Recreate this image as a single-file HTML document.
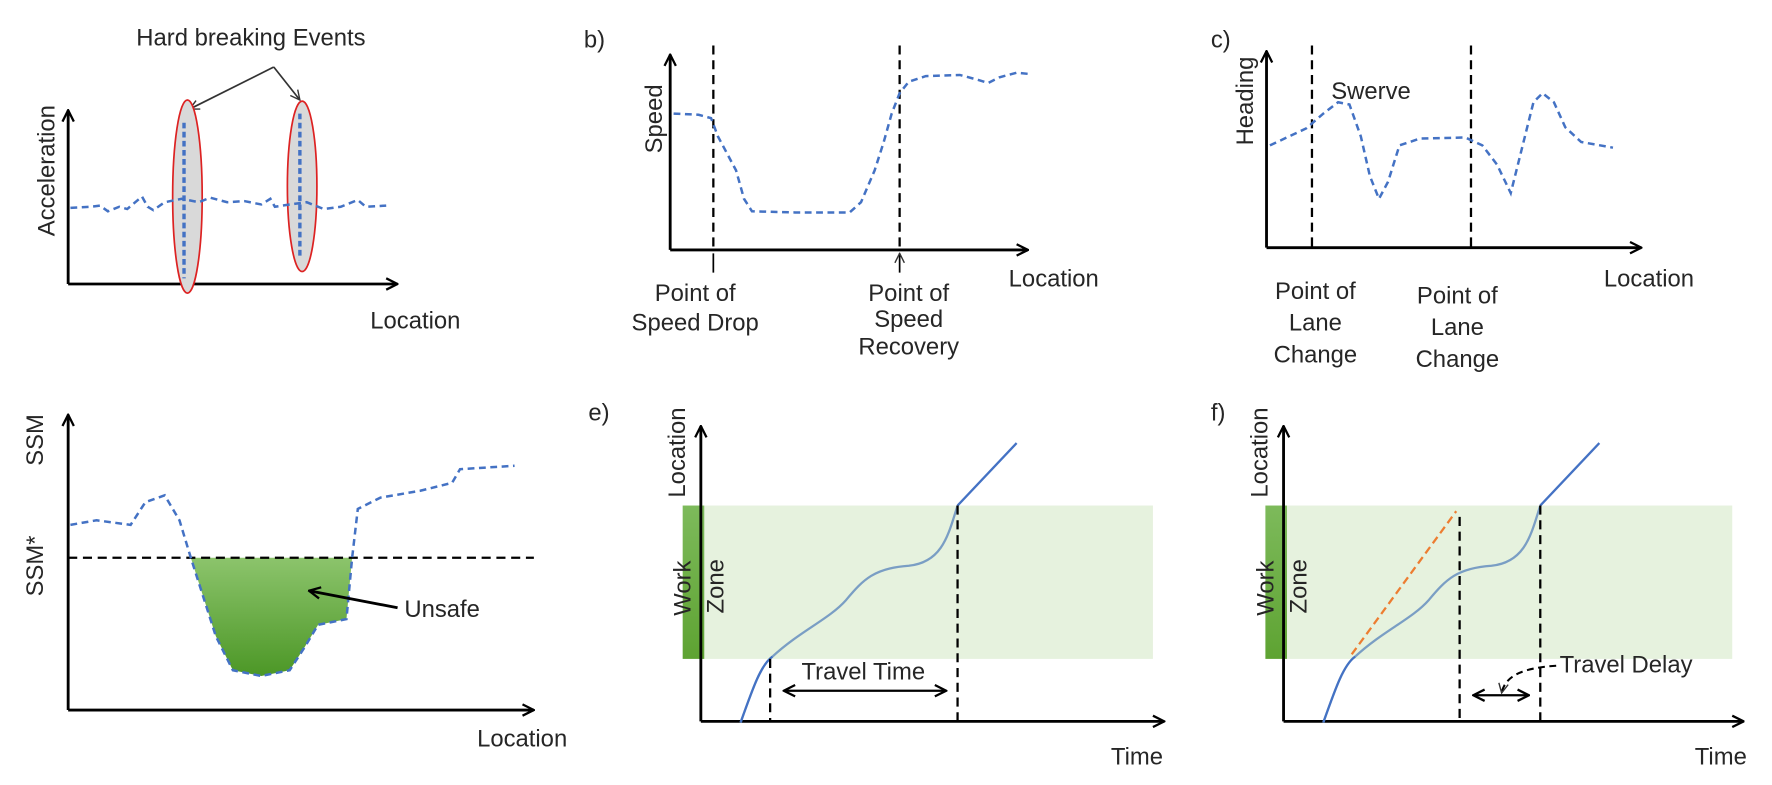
<!DOCTYPE html>
<html><head><meta charset="utf-8"><style>
html,body{margin:0;padding:0;background:#fff;overflow:hidden}
svg{display:block}
text{font-family:"Liberation Sans","DejaVu Sans",sans-serif;fill:#262626;font-size:21px}
</style></head><body>
<svg width="1772" height="785" viewBox="0 0 1560 691" preserveAspectRatio="none">
<defs>
<marker id="ar" viewBox="0 0 12 12" refX="11" refY="6" markerWidth="12" markerHeight="12" markerUnits="userSpaceOnUse" orient="auto"><path d="M1,1 L11,6 L1,11" fill="none" stroke="#000" stroke-width="2"/></marker>
<marker id="ar2" viewBox="0 0 12 12" refX="11" refY="6" markerWidth="10" markerHeight="10" markerUnits="userSpaceOnUse" orient="auto"><path d="M1,1 L11,6 L1,11" fill="none" stroke="#333" stroke-width="1.5"/></marker>
<marker id="ar3" viewBox="0 0 12 12" refX="1" refY="6" markerWidth="12" markerHeight="12" markerUnits="userSpaceOnUse" orient="auto"><path d="M11,1 L1,6 L11,11" fill="none" stroke="#000" stroke-width="2"/></marker>
<linearGradient id="gf" x1="0" y1="0" x2="0" y2="1"><stop offset="0" stop-color="#8cc46c"/><stop offset="1" stop-color="#4c9726"/></linearGradient>
<linearGradient id="gb" x1="0" y1="0" x2="0" y2="1"><stop offset="0" stop-color="#7dba5b"/><stop offset="1" stop-color="#5ea332"/></linearGradient>
</defs>
<g stroke="#000" stroke-width="2.5" fill="none">
<path d="M60,250 V97" marker-end="url(#ar)"/><path d="M60,250 H350" marker-end="url(#ar)"/>
<path d="M590,220 V48" marker-end="url(#ar)"/><path d="M590,220 H905" marker-end="url(#ar)"/>
<path d="M1115,218 V45" marker-end="url(#ar)"/><path d="M1115,218 H1445" marker-end="url(#ar)"/>
<path d="M60,625 V365" marker-end="url(#ar)"/><path d="M60,625 H470" marker-end="url(#ar)"/>
</g>
<!-- panel a -->
<text x="120" y="40" font-size="23">Hard breaking Events</text>
<path d="M241,59 L264,88" fill="none" stroke="#333" stroke-width="1.5" marker-end="url(#ar2)"/>
<path d="M241,59 L167,96" fill="none" stroke="#333" stroke-width="1.5" marker-end="url(#ar2)"/>
<ellipse cx="165" cy="173" rx="13" ry="85" fill="#d9d9d9" stroke="#d22" stroke-width="1.5"/>
<ellipse cx="266" cy="164" rx="13" ry="75" fill="#d9d9d9" stroke="#d22" stroke-width="1.5"/>
<path d="M62,183 L80,182 L88,181 L95,186 L105,182 L112,184 L125,173 L130,182 L135,185 L145,178 L160,175 L175,178 L185,174 L200,178 L215,177 L230,180 L238,175 L242,182 L255,180 L270,178 L285,184 L300,182 L315,176 L322,182 L340,181" fill="none" stroke="#4472c4" stroke-width="2.2" stroke-dasharray="6,4"/>
<path d="M162,108 V245 M264,100 V228" stroke="#4472c4" stroke-width="3" stroke-dasharray="5,3"/>
<text transform="translate(48,208) rotate(-90)" font-size="24">Acceleration</text>
<text x="326" y="289" font-size="23">Location</text>
<!-- panel b -->
<text x="514" y="42" font-size="22">b)</text>
<text transform="translate(583,135) rotate(-90)" font-size="22">Speed</text>
<path d="M628,40 V220 M792,40 V220" stroke="#000" stroke-width="2" stroke-dasharray="8,5"/>
<path d="M593,100 L615,101 L626,104 L632,120 L640,135 L648,150 L655,175 L662,186 L700,187 L748,187 L758,178 L770,150 L778,125 L785,100 L792,82 L800,72 L815,67 L845,66 L860,70 L870,73 L880,68 L895,64 L905,65" fill="none" stroke="#4472c4" stroke-width="2.2" stroke-dasharray="6,4"/>
<path d="M628,240 V223 M792,240 V223" stroke="#000" stroke-width="1.5" marker-end="url(#ar2)"/>
<text x="612" y="265" font-size="19" text-anchor="middle">Point of</text>
<text x="612" y="291" font-size="19" text-anchor="middle">Speed Drop</text>
<text x="800" y="265" font-size="19" text-anchor="middle">Point of</text>
<text x="800" y="288" font-size="19" text-anchor="middle">Speed</text>
<text x="800" y="312" font-size="19" text-anchor="middle">Recovery</text>
<text x="888" y="252" font-size="23">Location</text>
<!-- panel c -->
<text x="1066" y="42" font-size="22">c)</text>
<text transform="translate(1103,128) rotate(-90)" font-size="21">Heading</text>
<path d="M1155,40 V218 M1295,40 V218" stroke="#000" stroke-width="2" stroke-dasharray="8,5"/>
<path d="M1118,128 L1135,120 L1150,113 L1165,100 L1178,90 L1188,92 L1198,120 L1206,155 L1214,175 L1222,160 L1232,128 L1250,122 L1290,121 L1305,128 L1318,145 L1330,170 L1340,130 L1350,90 L1358,82 L1368,90 L1378,112 L1392,125 L1420,130" fill="none" stroke="#4472c4" stroke-width="2.2" stroke-dasharray="6,4"/>
<text x="1172" y="87" font-size="20">Swerve</text>
<text x="1158" y="263" font-size="21" text-anchor="middle">Point of</text>
<text x="1158" y="291" font-size="21" text-anchor="middle">Lane</text>
<text x="1158" y="319" font-size="21" text-anchor="middle">Change</text>
<text x="1283" y="267" font-size="21" text-anchor="middle">Point of</text>
<text x="1283" y="295" font-size="21" text-anchor="middle">Lane</text>
<text x="1283" y="323" font-size="21" text-anchor="middle">Change</text>
<text x="1412" y="252" font-size="23">Location</text>
<!-- panel d -->
<text transform="translate(38,410) rotate(-90)" font-size="21">SSM</text>
<text transform="translate(38,525) rotate(-90)" font-size="21">SSM*</text>
<path d="M168,491 L190,560 L205,590 L230,595 L255,590 L268,570 L280,550 L305,545 L310,491 Z" fill="url(#gf)"/>
<path d="M60,491 H470" stroke="#000" stroke-width="2" stroke-dasharray="8,5"/>
<path d="M62,462 L85,458 L115,462 L128,442 L145,436 L158,458 L168,491 L190,560 L205,590 L230,595 L255,590 L268,570 L280,550 L305,545 L310,491 L315,448 L335,438 L370,432 L398,425 L405,413 L453,410" fill="none" stroke="#4472c4" stroke-width="2.2" stroke-dasharray="6,4"/>
<path d="M350,535 L272,520" stroke="#000" stroke-width="2.5" marker-end="url(#ar)"/>
<text x="356" y="543" font-size="22">Unsafe</text>
<text x="420" y="657" font-size="23">Location</text>
<!-- panel e -->
<text x="518" y="370" font-size="22">e)</text>
<rect x="617" y="445" width="398" height="135" fill="#e6f2de"/>
<rect x="601" y="445" width="19" height="135" fill="url(#gb)"/>
<path d="M617,635 V375" stroke="#000" stroke-width="2.5" marker-end="url(#ar)"/>
<path d="M617,635 H1025" stroke="#000" stroke-width="2.5" marker-end="url(#ar)"/>
<text transform="translate(603,438) rotate(-90)" font-size="22">Location</text>
<text transform="translate(608,542) rotate(-90)" font-size="22">Work</text>
<text transform="translate(637,540) rotate(-90)" font-size="22" fill="#555">Zone</text>
<path d="M652,636 C663,605 670,585 680,578 C705,555 730,545 745,528 C760,510 770,500 800,498 C830,495 835,470 843,445" fill="none" stroke="#7a9ec4" stroke-width="2"/>
<path d="M652,636 C663,605 670,585 680,578" fill="none" stroke="#4472c4" stroke-width="2"/>
<path d="M843,445 L895,390" stroke="#4472c4" stroke-width="2"/>
<path d="M678,580 V635 M843,445 V635" stroke="#000" stroke-width="2" stroke-dasharray="8,5"/>
<path d="M690,608 H833" stroke="#000" stroke-width="2" marker-end="url(#ar)" marker-start="url(#ar3)"/>
<text x="760" y="598" font-size="22" text-anchor="middle">Travel Time</text>
<text x="978" y="673" font-size="23">Time</text>
<!-- panel f -->
<text x="1066" y="370" font-size="22">f)</text>
<rect x="1130" y="445" width="395" height="135" fill="#e6f2de"/>
<rect x="1114" y="445" width="19" height="135" fill="url(#gb)"/>
<path d="M1130,635 V375" stroke="#000" stroke-width="2.5" marker-end="url(#ar)"/>
<path d="M1130,635 H1535" stroke="#000" stroke-width="2.5" marker-end="url(#ar)"/>
<text transform="translate(1116,438) rotate(-90)" font-size="22">Location</text>
<text transform="translate(1121,542) rotate(-90)" font-size="22">Work</text>
<text transform="translate(1150,540) rotate(-90)" font-size="22" fill="#555">Zone</text>
<path d="M1165,636 C1176,605 1183,585 1193,578 C1218,555 1243,545 1258,528 C1273,510 1283,500 1313,498 C1343,495 1348,470 1356,445" fill="none" stroke="#7a9ec4" stroke-width="2"/>
<path d="M1165,636 C1176,605 1183,585 1193,578" fill="none" stroke="#4472c4" stroke-width="2"/>
<path d="M1356,445 L1408,390" stroke="#4472c4" stroke-width="2"/>
<path d="M1190,576 L1282,450" stroke="#ed7d31" stroke-width="2" stroke-dasharray="7,4"/>
<path d="M1285,455 V635 M1356,445 V635" stroke="#000" stroke-width="2" stroke-dasharray="8,5"/>
<path d="M1297,612 H1346" stroke="#000" stroke-width="2" marker-end="url(#ar)" marker-start="url(#ar3)"/>
<path d="M1370,586 C1340,588 1325,595 1322,610" fill="none" stroke="#000" stroke-width="1.8" stroke-dasharray="6,4" marker-end="url(#ar2)"/>
<text x="1373" y="592" font-size="22">Travel Delay</text>
<text x="1492" y="673" font-size="23">Time</text>
</svg>
</body></html>
